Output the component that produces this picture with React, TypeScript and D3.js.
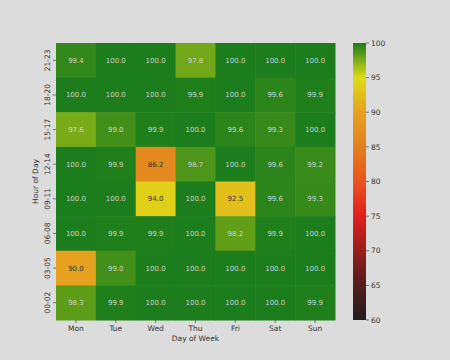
import React from "react";
import * as d3 from "d3";

const days = ["Mon", "Tue", "Wed", "Thu", "Fri", "Sat", "Sun"];
const hours = ["21-23", "18-20", "15-17", "12-14", "09-11", "06-08", "03-05", "00-02"];
const values: number[][] = [
  [99.4, 100.0, 100.0, 97.8, 100.0, 100.0, 100.0],
  [100.0, 100.0, 100.0, 99.9, 100.0, 99.6, 99.9],
  [97.6, 99.0, 99.9, 100.0, 99.6, 99.3, 100.0],
  [100.0, 99.9, 86.2, 98.7, 100.0, 99.6, 99.2],
  [100.0, 100.0, 94.0, 100.0, 92.5, 99.6, 99.3],
  [100.0, 99.9, 99.9, 100.0, 98.2, 99.9, 100.0],
  [90.0, 99.0, 100.0, 100.0, 100.0, 100.0, 100.0],
  [98.3, 99.9, 100.0, 100.0, 100.0, 100.0, 99.9],
];
const cbTicks = [60, 65, 70, 75, 80, 85, 90, 95, 100];
const colorStops = [60, 66, 75, 80, 86, 90, 95, 100];
const colorList = ["#221c1e", "#5e1c1c", "#e21e1e", "#e8541c", "#e3881e", "#e6a21e", "#dedc16", "#1b7d1b"];

const W = 450, H = 360;
const left = 56, right = 335, top = 43, bottom = 320;
const cbX = 353, cbW = 13;
const font = "DejaVu Sans, sans-serif";

export default function App() {
  const x = d3.scaleBand<string>().domain(days).range([left, right]);
  const y = d3.scaleBand<string>().domain(hours).range([top, bottom]);
  const color = d3.scaleLinear<string>().domain(colorStops).range(colorList).interpolate(d3.interpolateRgb).clamp(true);
  const cy = d3.scaleLinear().domain([60, 100]).range([bottom, top]);
  const grad = d3.range(0, 101).map((i) => 60 + (i * 40) / 100);

  return (
    <svg width={W} height={H} style={{ position: "absolute", left: 0, top: 0, background: "#dcdcdc" }}>
      <rect x={0} y={0} width={W} height={H} fill="#dcdcdc" />
      <defs>
        <linearGradient id="cb" x1="0" y1="1" x2="0" y2="0">
          {grad.map((v, i) => (
            <stop key={i} offset={`${(v - 60) / 40}`} stopColor={color(v)} />
          ))}
        </linearGradient>
      </defs>
      {values.map((row, ri) =>
        row.map((v, ci) => (
          <g key={`${ri}-${ci}`}>
            <rect x={x(days[ci])} y={y(hours[ri])} width={x.bandwidth() + 0.5} height={y.bandwidth() + 0.5} fill={color(v)} />
            <text
              x={(x(days[ci]) as number) + x.bandwidth() / 2}
              y={(y(hours[ri]) as number) + y.bandwidth() / 2}
              dy="0.35em"
              textAnchor="middle"
              fontFamily={font}
              fontSize={7}
              fill={v < 95 ? "#333333" : "#cfcfcf"}
            >
              {v.toFixed(1)}
            </text>
          </g>
        ))
      )}
      {days.map((d) => {
        const cx = (x(d) as number) + x.bandwidth() / 2;
        return (
          <g key={d}>
            <line x1={cx} x2={cx} y1={bottom} y2={bottom + 3} stroke="#444" strokeWidth={0.7} />
            <text x={cx} y={bottom + 11} textAnchor="middle" fontFamily={font} fontSize={7.5} fill="#333">
              {d}
            </text>
          </g>
        );
      })}
      {hours.map((h) => {
        const cyy = (y(h) as number) + y.bandwidth() / 2;
        return (
          <g key={h}>
            <line x1={left - 3} x2={left} y1={cyy} y2={cyy} stroke="#444" strokeWidth={0.7} />
            <text
              transform={`translate(${left - 6},${cyy}) rotate(-90)`}
              textAnchor="middle"
              fontFamily={font}
              fontSize={7.5}
              fill="#333"
            >
              {h}
            </text>
          </g>
        );
      })}
      <text x={(left + right) / 2} y={bottom + 21} textAnchor="middle" fontFamily={font} fontSize={7.5} fill="#333">
        Day of Week
      </text>
      <text
        transform={`translate(${left - 18},${(top + bottom) / 2}) rotate(-90)`}
        textAnchor="middle"
        fontFamily={font}
        fontSize={7.5}
        fill="#333"
      >
        Hour of Day
      </text>
      <rect x={cbX} y={top} width={cbW} height={bottom - top} fill="url(#cb)" />
      {cbTicks.map((t) => (
        <g key={t}>
          <line x1={cbX + cbW} x2={cbX + cbW + 3} y1={cy(t)} y2={cy(t)} stroke="#444" strokeWidth={0.7} />
          <text x={cbX + cbW + 5} y={cy(t)} dy="0.35em" fontFamily={font} fontSize={7.5} fill="#333">
            {t}
          </text>
        </g>
      ))}
    </svg>
  );
}
